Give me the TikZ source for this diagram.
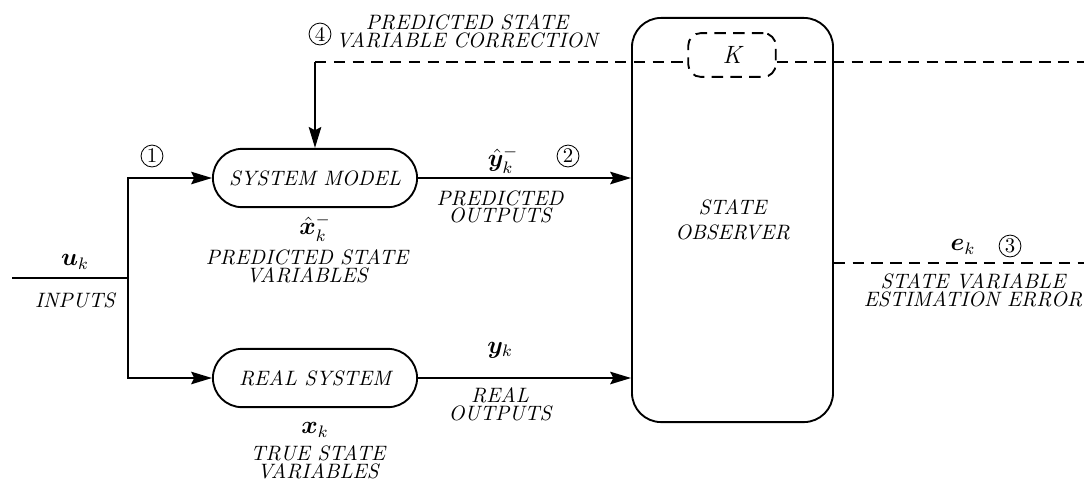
\documentclass[tikz,border=0pt]{standalone}
\usepackage{amsmath}
\usepackage{amssymb}
\usepackage{bm}
\usetikzlibrary{arrows.meta}

\tikzset{
	blockbox/.style={draw, line width=0.9pt, rounded corners=14pt, minimum width=98pt, minimum height=28pt, font=\itshape},
	lbl/.style={font=\itshape, align=center, inner sep=1pt},
	mathlbl/.style={font=\large, inner sep=1pt},
	num/.style={circle, draw, line width=0.4pt, inner sep=0pt, minimum size=10.5pt},
	arr/.style={line width=0.9pt, -{Stealth[length=10pt, width=6pt, inset=1.5pt]}},
	wire/.style={line width=0.9pt},
	dashwire/.style={line width=0.9pt, dash pattern=on 5.5pt off 3.5pt}
}

\begin{document}
\begin{tikzpicture}[x=0.48pt, y=-0.48pt]
	\useasboundingbox (0,0) rectangle (1084,480);
	\node[blockbox] (model) at (315,178) {SYSTEM MODEL};
	\node[blockbox] (real) at (315,378) {REAL SYSTEM};
	\node[draw, line width=0.9pt, rounded corners=14pt, minimum width=96.5pt, minimum height=194pt, font=\itshape, align=center] (obs) at (732.5,220) {STATE\\OBSERVER};
	\node[draw, dashwire, rounded corners=6pt, minimum width=42pt, minimum height=21pt, font=\large\itshape] (K) at (732,55) {K};
	\coordinate (in) at (12,278);
	\coordinate (split) at (128,278);
	\coordinate (cout) at (1084,62);
	\coordinate (corr) at (model.north |- cout);
	\coordinate (eout) at (1084,263);
	\draw[wire] (in) -- (split);
	\draw[arr] (split) |- (model);
	\draw[arr] (split) |- (real);
	\draw[arr] (model) -- (model -| obs.west);
	\draw[arr] (real) -- (real -| obs.west);
	\draw[dashwire] (corr) -- (K.west |- corr);
	\draw[dashwire] (K.east |- corr) -- (cout);
	\draw[arr] (corr) -- (model.north);
	\draw[dashwire] (eout -| obs.east) -- (eout);
	\node[mathlbl] (uk) at (75,262) {$\bm{u}_k$};
	\node[lbl] (inlbl) at (75,300) {INPUTS};
	\node[num] (n1) at (152,156) {1};
	\node[mathlbl] (xhat) at (315,228) {$\hat{\bm{x}}_k^-$};
	\node[lbl] (xhatlbl) at (307,266) {PREDICTED STATE\\[-3.5pt]VARIABLES};
	\node[mathlbl] (yhat) at (503,160) {$\hat{\bm{y}}_k^-$};
	\node[num] (n2) at (568,156) {2};
	\node[lbl] (yhatlbl) at (500,207) {PREDICTED\\[-3.5pt]OUTPUTS};
	\node[mathlbl] (yk) at (500,350) {$\bm{y}_k$};
	\node[lbl] (yklbl) at (500,404) {REAL\\[-3.5pt]OUTPUTS};
	\node[mathlbl] (xk) at (315,430) {$\bm{x}_k$};
	\node[lbl] (xklbl) at (318,462) {TRUE STATE\\[-3.5pt]VARIABLES};
	\node[mathlbl] (ek) at (963,247) {$\bm{e}_k$};
	\node[num] (n3) at (1010,246) {3};
	\node[lbl] (eklbl) at (973,290) {STATE VARIABLE\\[-3.5pt]ESTIMATION ERROR};
	\node[num] (n4) at (320,34) {4};
	\node[lbl] (corrlbl) at (467,31) {PREDICTED STATE\\[-3.5pt]VARIABLE CORRECTION};
\end{tikzpicture}
\end{document}
